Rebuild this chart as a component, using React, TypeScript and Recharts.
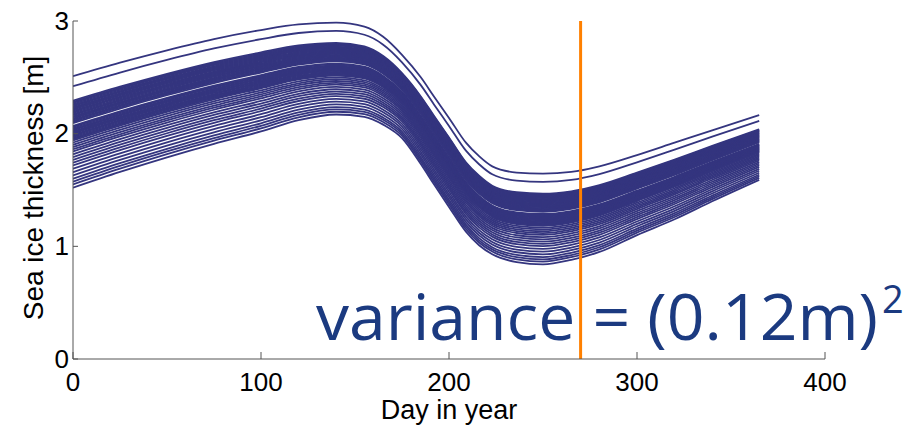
import React from 'react';
import { LineChart, Line, XAxis, YAxis, ReferenceLine, Customized } from 'recharts';

// Day-of-year sample points along the ensemble curves
const days = [0, 25, 50, 75, 100, 120, 140, 155, 165, 175, 185, 192, 200, 209, 216, 223, 236, 250, 265, 280, 300, 320, 340, 365];
// Highest ensemble member (sea ice thickness, m)
const upperMember = [2.51, 2.63, 2.74, 2.84, 2.92, 2.97, 2.985, 2.95, 2.86, 2.70, 2.50, 2.33, 2.14, 1.92, 1.80, 1.71, 1.655, 1.645, 1.66, 1.71, 1.81, 1.92, 2.03, 2.165];
// Lowest ensemble member (sea ice thickness, m)
const lowerMember = [1.52, 1.66, 1.79, 1.91, 2.02, 2.12, 2.17, 2.15, 2.08, 1.96, 1.73, 1.55, 1.35, 1.13, 1.01, 0.93, 0.86, 0.84, 0.88, 0.95, 1.10, 1.24, 1.40, 1.59];
// Relative position of each ensemble member between the lowest and highest member
const memberPositions = [
  1.0, 0.91,
  0.78, 0.77, 0.76, 0.75, 0.74, 0.73, 0.72, 0.71, 0.7, 0.69, 0.68, 0.67, 0.66, 0.65, 0.64, 0.63, 0.62, 0.61, 0.6, 0.59, 0.58,
  0.555, 0.545, 0.535, 0.525, 0.515, 0.505, 0.495, 0.485, 0.475, 0.465, 0.455, 0.445, 0.435, 0.425,
  0.405, 0.385, 0.365, 0.345, 0.325, 0.3, 0.275, 0.25, 0.225, 0.2, 0.17, 0.14, 0.11, 0.08, 0.055, 0.03, 0.0,
];
const xTicks = [0, 100, 200, 300, 400];
const yTicks = [0, 1, 2, 3];
const markerDay = 270;
const xLabel = 'Day in year';
const yLabel = 'Sea ice thickness [m]';
const annotation = 'variance = (0.12m)';
const annotationExp = '2';

const data = days.map((d, i) => {
  const row: Record<string, number> = { day: d };
  memberPositions.forEach((z, k) => {
    row['m' + k] = lowerMember[i] + z * (upperMember[i] - lowerMember[i]);
  });
  return row;
});

const LINE_COLOR = '#34357f';
const AXIS_COLOR = '#555555';
const FONT = "'Liberation Sans', Arial, sans-serif";

const XTick = (props: any) => {
  const { x, y, payload } = props;
  return (
    <g>
      <line x1={x} y1={y} x2={x} y2={y - 7} stroke={AXIS_COLOR} strokeWidth={1} />
      <text x={x} y={y + 32} textAnchor="middle" fontSize={26} fill="#000" fontFamily={FONT}>
        {payload.value}
      </text>
    </g>
  );
};

const YTick = (props: any) => {
  const { x, y, payload } = props;
  return (
    <g>
      <line x1={x} y1={y} x2={x + 5} y2={y} stroke={AXIS_COLOR} strokeWidth={1} />
      <text x={x - 4} y={y} dy="0.33em" textAnchor="end" fontSize={26} fill="#000" fontFamily={FONT}>
        {payload.value}
      </text>
    </g>
  );
};

const YLabelContent = (props: any) => {
  const vb = props.viewBox || {};
  const cx = (vb.x || 0) + 43;
  const cy = (vb.y || 0) + (vb.height || 0) / 2 - 2;
  return (
    <text x={cx} y={cy} transform={`rotate(-90, ${cx}, ${cy})`} textAnchor="middle" fontSize={28} fill="#000" fontFamily={FONT}>
      {yLabel}
    </text>
  );
};

const XLabelContent = (props: any) => {
  const vb = props.viewBox || {};
  const cx = (vb.x || 0) + (vb.width || 0) / 2;
  const cy = (vb.y || 0) + 60;
  return (
    <text x={cx} y={cy} textAnchor="middle" fontSize={27} fill="#000" fontFamily={FONT}>
      {xLabel}
    </text>
  );
};

const Annotation = () => (
  <g>
    <text x={316} y={340} fontSize={64} fill="#1b3a80" fontFamily="'Open Sans', 'Noto Sans', sans-serif" textLength={562} lengthAdjust="spacingAndGlyphs">
      {annotation}
    </text>
    <text x={882} y={313} fontSize={38} fill="#1b3a80" fontFamily="'Open Sans', 'Noto Sans', sans-serif">
      {annotationExp}
    </text>
  </g>
);

export default function App() {
  return (
    <div style={{ position: 'absolute', left: 0, top: 0, width: 909, height: 427, background: '#fff' }}>
      <LineChart width={909} height={427} data={data} margin={{ top: 21, right: 84, bottom: 0, left: 0 }}>
        <XAxis
          type="number"
          dataKey="day"
          domain={[0, 400]}
          ticks={xTicks}
          allowDataOverflow
          height={68}
          tickSize={0}
          tickMargin={0}
          tickLine={false}
          tick={<XTick />}
          stroke={AXIS_COLOR}
          label={{ content: <XLabelContent /> }}
        />
        <YAxis
          type="number"
          domain={[0, 3]}
          ticks={yTicks}
          allowDataOverflow
          width={73}
          tickSize={0}
          tickMargin={0}
          tickLine={false}
          tick={<YTick />}
          stroke={AXIS_COLOR}
          label={{ content: <YLabelContent /> }}
        />
        {memberPositions.map((_, k) => (
          <Line
            key={k}
            type="monotone"
            dataKey={'m' + k}
            stroke={LINE_COLOR}
            strokeWidth={1.8}
            dot={false}
            activeDot={false}
            isAnimationActive={false}
          />
        ))}
        <ReferenceLine x={markerDay} stroke="#ff8000" strokeWidth={3} />
        <Customized component={Annotation} />
      </LineChart>
    </div>
  );
}
